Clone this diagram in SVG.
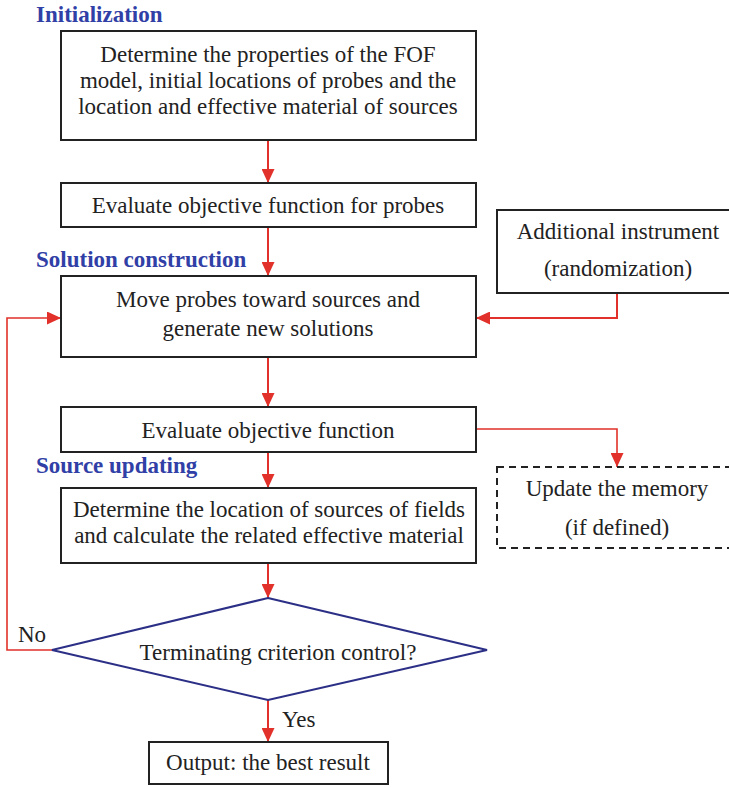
<svg xmlns="http://www.w3.org/2000/svg" width="729" height="787" viewBox="0 0 729 787">
  <defs>
    <marker id="arrow" viewBox="0 0 14 13" refX="14" refY="6.5" markerWidth="14" markerHeight="13" markerUnits="userSpaceOnUse" orient="auto">
      <path d="M0,0 L14,6.5 L0,13 Z" fill="#e2312a"/>
    </marker>
  </defs>
  <style>
    .box { fill: #ffffff; stroke: #222222; stroke-width: 2; }
    .dashed { fill: #ffffff; stroke: #222222; stroke-width: 2; stroke-dasharray: 7 5; }
    .decision { fill: #ffffff; stroke: #2c2f86; stroke-width: 2; }
    .txt { font-family: "Liberation Serif", "Times New Roman", serif; font-size: 23px; fill: #222222; }
    .mid { text-anchor: middle; }
    .stage { font-family: "Liberation Serif", "Times New Roman", serif; font-size: 23px; font-weight: bold; fill: #3040a6; }
    .flow { fill: none; stroke: #e2312a; stroke-width: 2; }
    .thin { fill: none; stroke: #e2312a; stroke-width: 1.6; }
  </style>

  <rect width="729" height="787" fill="#ffffff"/>

  <!-- stage headings -->
  <g id="stage-labels">
    <text class="stage" x="36" y="22">Initialization</text>
    <text class="stage" x="36" y="267">Solution construction</text>
    <text class="stage" x="36" y="473">Source updating</text>
  </g>

  <!-- connectors -->
  <g id="connectors">
    <line class="flow" x1="268" y1="140" x2="268" y2="183" marker-end="url(#arrow)"/>
    <line class="flow" x1="268" y1="227" x2="268" y2="276" marker-end="url(#arrow)"/>
    <polyline class="flow" points="617,293 617,318 476,318" marker-end="url(#arrow)"/>
    <line class="flow" x1="268" y1="357" x2="268" y2="407" marker-end="url(#arrow)"/>
    <polyline class="thin" points="476,429 617,429 617,467" marker-end="url(#arrow)"/>
    <line class="flow" x1="268" y1="452" x2="268" y2="488" marker-end="url(#arrow)"/>
    <line class="flow" x1="268" y1="563" x2="268" y2="598" marker-end="url(#arrow)"/>
    <polyline class="thin" points="52,650 7,650 7,318 61,318" marker-end="url(#arrow)"/>
    <line class="flow" x1="268" y1="700" x2="268" y2="742" marker-end="url(#arrow)"/>
    <text class="txt" x="18" y="642">No</text>
    <text class="txt" x="282" y="727">Yes</text>
  </g>

  <g id="init-setup">
    <rect class="box" x="61" y="31" width="415" height="109"/>
    <text class="txt mid" x="268" y="62">Determine the properties of the FOF</text>
    <text class="txt mid" x="268" y="88">model, initial locations of probes and the</text>
    <text class="txt mid" x="268" y="114">location and effective material of sources</text>
  </g>

  <g id="eval-probes">
    <rect class="box" x="61" y="183" width="415" height="44"/>
    <text class="txt mid" x="268" y="213">Evaluate objective function for probes</text>
  </g>

  <g id="additional-instrument">
    <rect class="box" x="497" y="210" width="240" height="83"/>
    <text class="txt mid" x="618" y="239">Additional instrument</text>
    <text class="txt mid" x="618" y="276">(randomization)</text>
  </g>

  <g id="move-probes">
    <rect class="box" x="61" y="276" width="415" height="81"/>
    <text class="txt mid" x="268" y="307">Move probes toward sources and</text>
    <text class="txt mid" x="268" y="336">generate new solutions</text>
  </g>

  <g id="eval-objective">
    <rect class="box" x="61" y="407" width="415" height="45"/>
    <text class="txt mid" x="268" y="438">Evaluate objective function</text>
  </g>

  <g id="update-memory">
    <rect class="dashed" x="497" y="467" width="240" height="81"/>
    <text class="txt mid" x="617" y="496">Update the memory</text>
    <text class="txt mid" x="617" y="535">(if defined)</text>
  </g>

  <g id="source-update">
    <rect class="box" x="61" y="488" width="415" height="75"/>
    <text class="txt mid" x="269" y="517">Determine the location of sources of fields</text>
    <text class="txt mid" x="269" y="543">and calculate the related effective material</text>
  </g>

  <g id="termination">
    <polygon class="decision" points="268,598 487,650 268,700 52,650"/>
    <text class="txt mid" x="278" y="660">Terminating criterion control?</text>
  </g>

  <g id="output">
    <rect class="box" x="149" y="742" width="239" height="42"/>
    <text class="txt mid" x="268" y="770">Output: the best result</text>
  </g>
</svg>
